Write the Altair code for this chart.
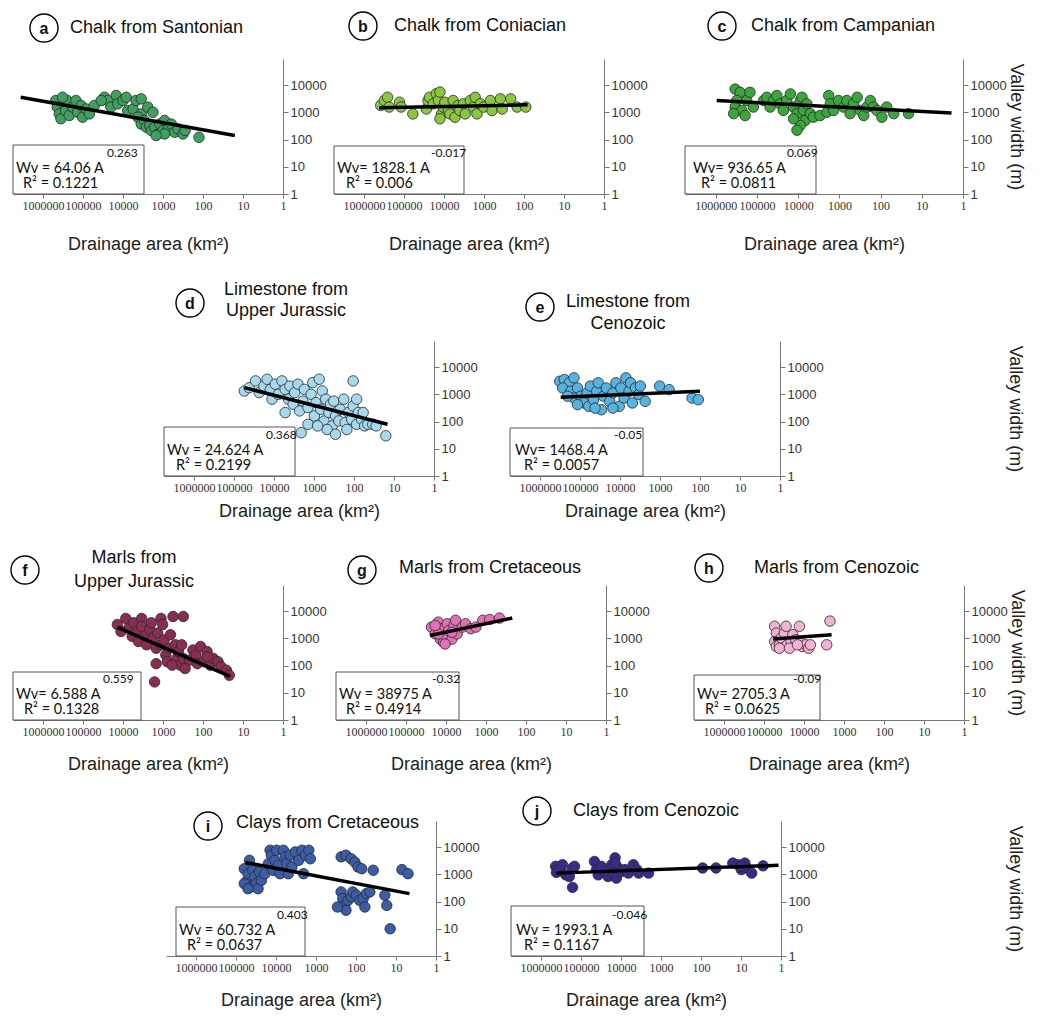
import altair as alt
import pandas as pd

# ---------------- axis tick values ----------------
X_TICKS = [1000000, 100000, 10000, 1000, 100, 10, 1]
Y_TICKS = [1, 10, 100, 1000, 10000]
X_DOMAIN = [1, 5600000]
Y_DOMAIN = [1, 90000]

# ---------------- data (drainage area km², valley width m) ----------------
a_area = [480000, 440000, 390000, 355000, 295000, 270000, 245000, 220000, 182000, 150000,
          135000, 112000, 102000, 83000, 69000, 52000, 324000,
          29000, 24000, 14800, 20000, 13500, 10000, 8300, 7600, 5600, 4700, 3500, 3500, 2400, 1780, 35000,
          4250, 3500, 2900, 2600, 2150, 1950, 1600, 1320, 1200, 1000, 910, 740, 620, 510, 420, 315, 280,
          910, 1480, 126]
a_width = [2700, 1550, 870, 575, 2040, 1150, 2700, 760, 1550, 2700,
           1000, 1780, 660, 1320, 870, 1780, 3550,
           3550, 2700, 4150, 1550, 2040, 2700, 3550, 1150, 1320, 2700, 3100, 870, 1550, 1000, 2700,
           660, 370, 500, 280, 325, 215, 280, 160, 370, 215, 500, 245, 370, 185, 245, 160, 215,
           160, 140, 120]
a_fit_area = [3600000, 16]
a_fit_width = [3550, 140]

b_area = [380000, 310000, 257000, 234000, 129000, 117000, 60000, 27500, 25000, 23000,
          18600, 15500, 13800, 12600, 11500, 12600, 10500, 9500, 7800, 7100,
          5900, 5300, 4400, 4000, 3250, 2950, 2200, 1820, 1660, 1500,
          1230, 1020, 690, 630, 390, 350, 215, 148, 90]
b_width = [1780, 2700, 3550, 1550, 2340, 1550, 870, 1320, 2700, 3550,
           2040, 4800, 2700, 5500, 870, 575, 1550, 2340, 1150, 870,
           2700, 660, 1780, 1150, 2040, 870, 2700, 1550, 3550, 870,
           2040, 1550, 2700, 1150, 3100, 1320, 3100, 1550, 1550]
b_fit_area = [420000, 81]
b_fit_width = [1450, 1870]

c_area = [340000, 257000, 310000, 340000, 234000, 178000, 148000, 123000, 195000, 370000,
          69000, 58000, 48000, 40000, 33000, 27500, 23000, 19000, 15500, 13000,
          10700, 8900, 8100, 7400, 6800, 8900, 10700, 13000, 6200, 5100,
          4300, 2950, 2000, 1820, 1660, 1380, 1050, 790, 660, 550,
          455, 370, 310, 257, 215, 178, 148, 123, 93, 71, 48, 21]
c_width = [7100, 5400, 2700, 1550, 1170, 2700, 5400, 1550, 760, 890,
           2700, 3550, 1550, 2700, 4100, 2040, 1170, 2700, 4700, 1550,
           890, 2700, 3550, 1170, 500, 330, 220, 575, 2040, 890,
           660, 760, 1000, 4100, 2040, 1170, 2700, 1550, 2700, 890,
           2040, 3550, 1170, 760, 1550, 2700, 1550, 1170, 660, 1550, 890, 890]
c_fit_area = [950000, 1.9]
c_fit_width = [2700, 930]

d_area = [55000, 41700, 28800, 23400, 17800, 14800, 12300, 11200, 9300, 7760,
          6300, 5250, 4370, 4000, 3310, 3020, 2510, 2290, 1900, 1740,
          1410, 1180, 1070, 980, 890, 740, 680, 620, 560, 510,
          425, 385, 350, 320, 290, 240, 220, 180, 166, 138,
          115, 105, 105, 86, 78, 65, 54, 45, 34, 28,
          16, 470, 290, 2090, 1410, 810, 5250, 151, 59, 86]
d_width = [1320, 1740, 3090, 1150, 2000, 3550, 1510, 660, 2340, 1000,
           3090, 1510, 660, 2000, 430, 1150, 2340, 245, 560, 1510,
           325, 1000, 2690, 160, 490, 3550, 280, 1320, 105, 660,
           213, 430, 69, 560, 160, 105, 280, 660, 91, 213,
           120, 370, 3090, 79, 213, 120, 69, 79, 79, 69,
           30, 51, 34, 39, 79, 69, 213, 51, 213, 660]
d_fit_area = [55000, 14.5]
d_fit_width = [1750, 79]

e_area = [320000, 245000, 185000, 141000, 270000, 170000, 115000, 141000, 95000, 79000,
          66000, 55000, 60000, 46000, 38000, 35000, 29000, 26000, 22000, 18000,
          15000, 12600, 10400, 9500, 7900, 7100, 5900, 5400, 4900, 4100,
          3400, 3100, 2340, 1020, 590, 158, 110, 204000, 115000, 42000, 15000]
e_width = [3000, 3470, 2630, 4000, 1700, 1290, 1700, 725, 850, 480,
           1120, 2000, 360, 630, 1290, 2630, 270, 850, 1700, 550,
           1120, 2630, 360, 1700, 725, 4000, 1290, 2630, 480, 1700,
           980, 2000, 550, 2000, 1480, 725, 630, 850, 415, 310, 310]
e_fit_area = [303000, 100]
e_fit_width = [775, 1290]

f_area = [13800, 11200, 8500, 7100, 5900, 5400, 4500, 4100, 3400, 3400,
          2800, 2570, 2140, 1950, 1780, 1480, 1350, 1120, 1120, 1020,
          930, 850, 710, 650, 560, 310, 490, 450, 410, 370,
          340, 310, 280, 1620, 215, 178, 150, 138, 115, 95,
          79, 66, 55, 42, 35, 26, 22, 79, 1480, 780, 590]
f_width = [3200, 1780, 5350, 2400, 1170, 3700, 1780, 760, 5350, 2750,
           1170, 575, 2090, 3700, 1020, 430, 1550, 5350, 575, 3200,
           870, 245, 430, 1350, 6300, 6300, 575, 182, 325, 103,
           575, 182, 78, 25, 158, 370, 245, 117, 500, 138,
           325, 103, 182, 138, 89, 67, 44, 210, 117, 138, 103]
f_fit_area = [13800, 21]
f_fit_width = [2500, 40]

g_area = [23000, 18600, 15500, 13800, 12600, 11500, 10500, 9300, 8500, 7100,
          6300, 5750, 5250, 3900, 3240, 2400, 1780, 1200, 810, 460,
          15500, 10500, 18600, 7100]
g_width = [2570, 1450, 3900, 930, 2240, 710, 1260, 3400, 1900, 930,
           2950, 4550, 1450, 2570, 3400, 2240, 2570, 4550, 4900, 5500,
           1450, 615, 2950, 1660]
g_fit_area = [25000, 220]
g_fit_width = [1260, 5500]

h_area = [54000, 49000, 54000, 49000, 41000, 37000, 31000, 28000, 26000, 21000,
          19000, 16000, 13000, 12000, 11000, 9100, 7600, 6900, 2700, 2240,
          41000, 23000, 14500]
h_width = [2750, 1550, 760, 500, 575, 1020, 1550, 2750, 575, 760,
           1350, 870, 2750, 660, 500, 575, 430, 575, 575, 4270,
           430, 430, 575]
h_fit_area = [59000, 2040]
h_fit_width = [930, 1350]

i_area = [62000, 56000, 50000, 46000, 42000, 38000, 34000, 31000, 28000, 26000,
          23000, 19000, 15500, 14000, 13000, 11700, 10700, 9600, 8700, 7900,
          6500, 5900, 5400, 4900, 4400, 4000, 3300, 2700, 2240, 2040,
          1820, 1510, 1380, 62000, 50000,
          235, 178, 132, 107, 89, 72, 37,
          235, 214, 195, 178, 158, 132, 120, 98, 81, 66,
          60, 55, 45, 19, 17, 14, 7.1, 5.0, 290]
i_width = [1600, 520, 1050, 3250, 340, 1400, 800, 455, 295, 1200,
           600, 1050, 2450, 7600, 5000, 1400, 3250, 7600, 2150, 1050,
           7600, 4350, 2450, 1050, 5000, 1850, 6600, 3250, 7600, 1050,
           5000, 7600, 3700, 455, 295,
           4350, 5000, 3700, 2800, 1850, 1600, 1400,
           225, 128, 72, 48, 110, 148, 225, 170, 110, 128,
           63, 195, 225, 170, 72, 10, 1480, 1050, 63]
i_fit_area = [58000, 4.6]
i_fit_width = [2700, 195]

j_area = [430000, 410000, 350000, 290000, 240000, 195000, 162000, 145000, 162000, 46000,
          41000, 37000, 31000, 26000, 21000, 17000, 15500, 14000, 13000, 11700,
          9600, 7900, 6500, 4900, 4000, 3600, 2040, 91, 42, 16,
          11.7, 9.8, 8.0, 7.2, 5.4, 2.8, 14000, 9.8]
j_width = [1950, 1170, 1480, 2240, 950, 830, 1700, 1950, 330, 2950,
           1480, 950, 1950, 1260, 830, 2240, 1100, 4000, 720, 1700,
           1260, 1480, 1100, 2240, 1480, 1100, 1100, 1700, 1700, 2570,
           2240, 1480, 2570, 1700, 1100, 2040, 2570, 1950]
j_fit_area = [410000, 1.15]
j_fit_width = [1100, 2130]

# ---------------- panel content ----------------
PANELS = {
    "a": dict(area=a_area, width=a_width, fa=a_fit_area, fw=a_fit_width, color="#3f9f5f",
              eq="Wv = 64.06 A", sup="0.263", r2="R² = 0.1221"),
    "b": dict(area=b_area, width=b_width, fa=b_fit_area, fw=b_fit_width, color="#8cc540",
              eq="Wv= 1828.1 A", sup="-0.017", r2="R² = 0.006"),
    "c": dict(area=c_area, width=c_width, fa=c_fit_area, fw=c_fit_width, color="#3aa63c",
              eq="Wv= 936.65 A", sup="0.069", r2="R² = 0.0811"),
    "d": dict(area=d_area, width=d_width, fa=d_fit_area, fw=d_fit_width, color="#a6d8ee",
              eq="Wv = 24.624 A", sup="0.368", r2="R² = 0.2199"),
    "e": dict(area=e_area, width=e_width, fa=e_fit_area, fw=e_fit_width, color="#56b3e0",
              eq="Wv= 1468.4 A", sup="-0.05", r2="R² = 0.0057"),
    "f": dict(area=f_area, width=f_width, fa=f_fit_area, fw=f_fit_width, color="#8a2d55",
              eq="Wv= 6.588 A", sup="0.559", r2="R² = 0.1328"),
    "g": dict(area=g_area, width=g_width, fa=g_fit_area, fw=g_fit_width, color="#e36fb5",
              eq="Wv = 38975 A", sup="-0.32", r2="R² = 0.4914"),
    "h": dict(area=h_area, width=h_width, fa=h_fit_area, fw=h_fit_width, color="#f2b0d2",
              eq="Wv= 2705.3 A", sup="-0.09", r2="R² = 0.0625"),
    "i": dict(area=i_area, width=i_width, fa=i_fit_area, fw=i_fit_width, color="#3b5ca6",
              eq="Wv = 60.732 A", sup="0.403", r2="R² = 0.0637"),
    "j": dict(area=j_area, width=j_width, fa=j_fit_area, fw=j_fit_width, color="#3b2a8c",
              eq="Wv = 1993.1 A", sup="-0.046", r2="R² = 0.1167"),
}

TITLES = {
    "a": [("Chalk from Santonian", 57, -31, "left")],
    "b": [("Chalk from Coniacian", 60, -33, "left")],
    "c": [("Chalk from Campanian", 66, -33, "left")],
    "d": [("Limestone from", 122, -51, "center"), ("Upper Jurassic", 122, -30, "center")],
    "e": [("Limestone from", 118, -39, "center"), ("Cenozoic", 118, -17, "center")],
    "f": [("Marls from", 121, -27, "center"), ("Upper Jurassic", 121, -3, "center")],
    "g": [("Marls from Cretaceous", 63, -17, "left")],
    "h": [("Marls from Cenozoic", 60, -17, "left")],
    "i": [("Clays from Cretaceous", 70, 2, "left")],
    "j": [("Clays from Cenozoic", 62, -10, "left")],
}

# layout (pixels): plot left on page, plot width, ring centre, box, text x offsets
LAYOUT = {
    "a": dict(L=11, W=270, ring=(31, -31), box=(0, 131, 49), tx=(3, 94, 10)),
    "b": dict(L=330, W=270, ring=(29, -33), box=(0, 130, 48), tx=(3, 97, 12)),
    "c": dict(L=679, W=278, ring=(37, -33), box=(0, 131, 48), tx=(8, 102, 16)),
    "d": dict(L=161, W=270, ring=(26, -38), box=(0, 131, 49), tx=(3, 102, 12)),
    "e": dict(L=505, W=270, ring=(30, -34), box=(0, 133, 48), tx=(5, 104, 14)),
    "f": dict(L=11, W=270, ring=(12, -15), box=(0, 128, 48), tx=(3, 90, 11)),
    "g": dict(L=332, W=270, ring=(26, -15), box=(0, 123, 48), tx=(3, 96, 10)),
    "h": dict(L=688, W=270, ring=(15, -17), box=(0, 126, 45), tx=(3, 99, 11)),
    "i": dict(L=163, W=270, ring=(42, 5), box=(10, 139, 49), tx=(13, 111, 21)),
    "j": dict(L=506, W=270, ring=(26, -10), box=(0, 133, 50), tx=(5, 101, 13)),
}

ROWS = [
    dict(keys=["a", "b", "c"], spacer=False, tpad=50, bpad=69, xtp=24, ytp=0),
    dict(keys=["d", "e"], spacer=True, tpad=76, bpad=57, xtp=9, ytp=182),
    dict(keys=["f", "g", "h"], spacer=False, tpad=50, bpad=65, xtp=18, ytp=0),
    dict(keys=["i", "j"], spacer=True, tpad=34, bpad=54, xtp=18, ytp=181),
]

H = 135
RPAD = 46
X0 = 11          # page x of every row's origin
LEFT_EXT = 3     # left extent of first element of each row
ONE = pd.DataFrame({"k": [0]})
AX_FONT = "Liberation Sans"
TICK_FONT = "Liberation Sans Narrow"
EQ_FONT = "Lato"
EQ_SIZE = 14.5


def text_layer(s, x, y, size, font, align="left", weight="normal"):
    return alt.Chart(ONE).mark_text(
        align=align, baseline="middle", font=font, fontSize=size,
        fontWeight=weight, color="#111111"
    ).encode(x=alt.value(x), y=alt.value(y), text=alt.value(s))


def anchor(x, y):
    return alt.Chart(ONE).mark_point(size=1, opacity=0, filled=True).encode(
        x=alt.value(x), y=alt.value(y))


def spacer(w):
    return anchor(-LEFT_EXT, 0).properties(width=w, height=10)


def make_panel(key, lpad, last, row):
    p = PANELS[key]
    lay = LAYOUT[key]
    W = lay["W"]
    pts = pd.DataFrame({"area": p["area"], "width": p["width"]})
    fit = pd.DataFrame({"area": p["fa"], "width": p["fw"]})
    xs = alt.Scale(type="log", domain=X_DOMAIN, reverse=True, nice=False)
    ys = alt.Scale(type="log", domain=Y_DOMAIN, nice=False)
    xax = alt.Axis(values=X_TICKS, format="d", title="Drainage area (km²)",
                   titleFont=AX_FONT, titleFontSize=18, titleFontWeight="normal",
                   titleColor="#222222", titlePadding=row["xtp"],
                   labelFont=TICK_FONT, labelFontSize=12, labelColor="#333333",
                   labelPadding=2, labelOverlap=False, labelFlush=False,
                   domainColor="#777777", tickColor="#777777", tickSize=4, grid=False)
    ykw = dict(orient="right", values=Y_TICKS, format="d",
               labelFont=AX_FONT, labelFontSize=13, labelColor="#333333",
               labelPadding=2, labelOverlap=False, labelFlush=False,
               domainColor="#777777", tickColor="#777777", tickSize=5, grid=False)
    if last:
        ykw.update(title="Valley width (m)", titleFont=AX_FONT, titleFontSize=18,
                   titleFontWeight="normal", titleColor="#222222",
                   titlePadding=row["ytp"])
    else:
        ykw.update(title=None)
    yax = alt.Axis(**ykw)

    points = alt.Chart(pts).mark_circle(
        size=110, opacity=1, fill=p["color"], stroke="#2a2a2a", strokeWidth=0.8
    ).encode(x=alt.X("area:Q", scale=xs, axis=xax), y=alt.Y("width:Q", scale=ys, axis=yax))
    line = alt.Chart(fit).mark_line(color="black", strokeWidth=3.5).encode(
        x=alt.X("area:Q", scale=xs), y=alt.Y("width:Q", scale=ys))

    bx0, bx1, bh = lay["box"]
    box = alt.Chart(ONE).mark_rect(fill="white", stroke="#555555", strokeWidth=1).encode(
        x=alt.value(bx0), x2=alt.value(bx1), y=alt.value(H - bh), y2=alt.value(H))
    mx, sx, rx = lay["tx"]
    eq = text_layer(p["eq"], mx, H - 25, EQ_SIZE, EQ_FONT)
    sup = text_layer(p["sup"], sx, H - 41, 12, EQ_FONT)
    r2 = text_layer(p["r2"], rx, H - 10, EQ_SIZE, EQ_FONT)

    cx, cy = lay["ring"]
    ring = alt.Chart(ONE).mark_point(
        shape="circle", size=784, filled=False, stroke="black", strokeWidth=1.4, opacity=1
    ).encode(x=alt.value(cx), y=alt.value(cy))
    letter = text_layer(key, cx, cy + 1, 16, AX_FONT, align="center", weight="bold")
    titles = [text_layer(t, x, y, 18, AX_FONT, align=al) for (t, x, y, al) in TITLES[key]]

    a1 = anchor(-lpad, -row["tpad"])
    a2 = anchor(0 if last else W + RPAD, H + row["bpad"])

    return alt.layer(points, line, box, eq, sup, r2, ring, letter, *titles, a1, a2).properties(
        width=W, height=H)


rows = []
for row in ROWS:
    charts = []
    keys = row["keys"]
    if row["spacer"]:
        w = LAYOUT[keys[0]]["L"] - X0 - 2
        charts.append(spacer(w))
        prev_right = X0 + w
    else:
        prev_right = None
    for n, key in enumerate(keys):
        L = LAYOUT[key]["L"]
        lpad = LEFT_EXT if prev_right is None else L - prev_right
        last = n == len(keys) - 1
        charts.append(make_panel(key, lpad, last, row))
        prev_right = L + LAYOUT[key]["W"] + RPAD
    rows.append(alt.hconcat(*charts, spacing=0))

chart = alt.vconcat(*rows, spacing=0).properties(
    padding={"left": 0, "top": 0, "right": 6, "bottom": 0}, background="white"
).configure_view(stroke=None)

chart.save("out.html", embed_options={"renderer": "svg", "actions": False})
